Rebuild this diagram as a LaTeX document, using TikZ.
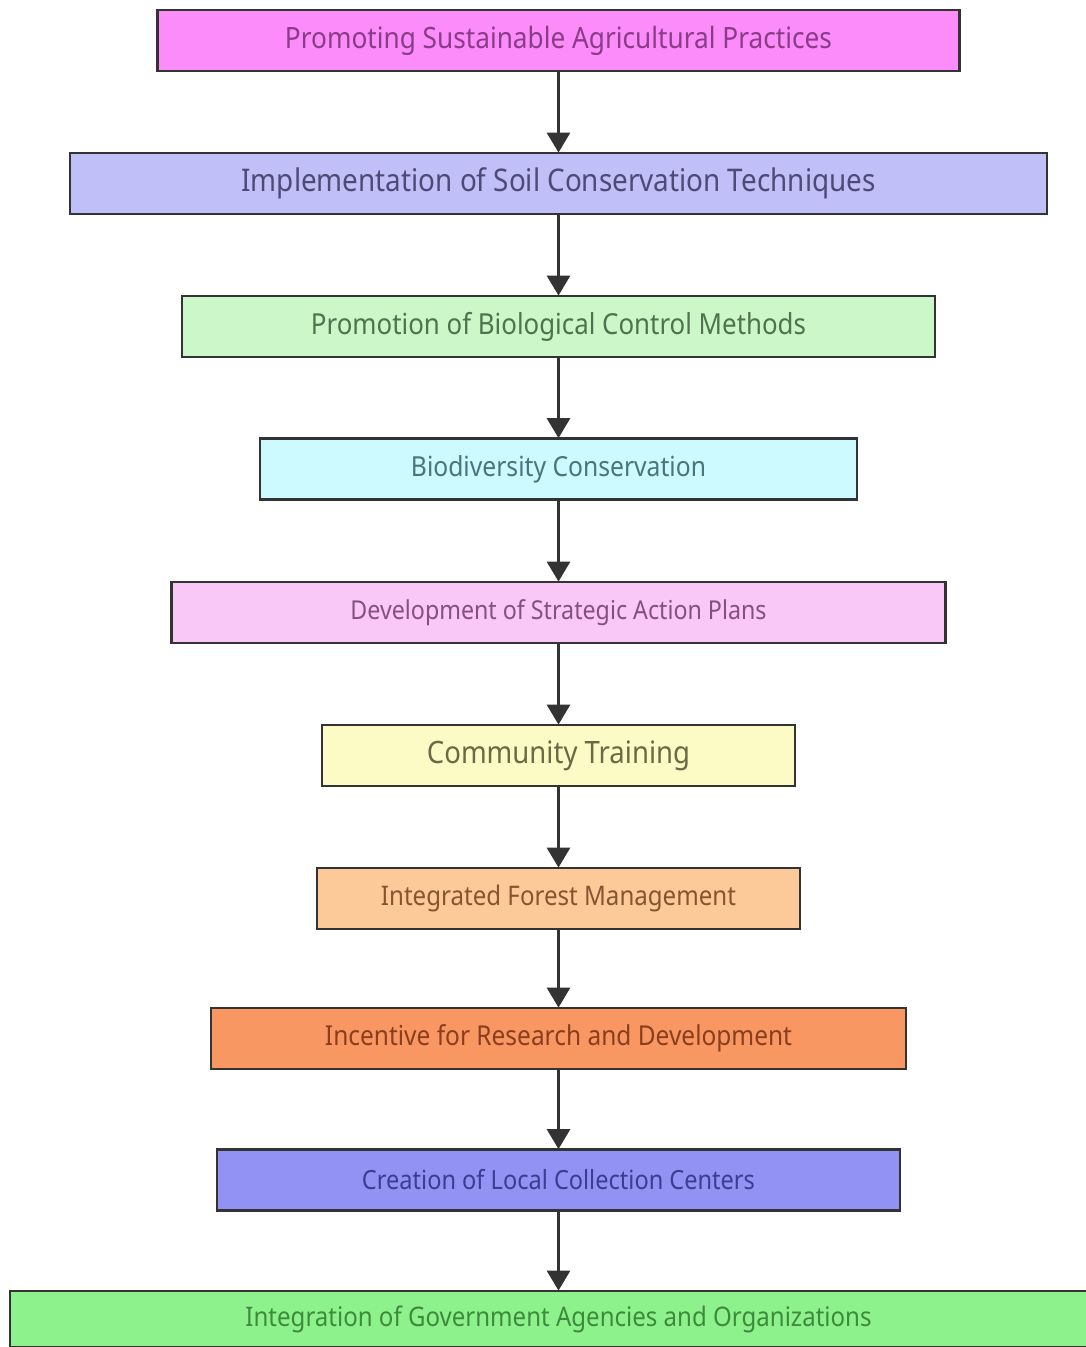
\documentclass[tikz,border=0pt]{standalone}
\usepackage{fontspec}
\setmainfont{Noto Sans}
\usetikzlibrary{arrows.meta}
\definecolor{cA}{HTML}{FC8CF9}
\definecolor{cB}{HTML}{C0BFF7}
\definecolor{cC}{HTML}{CCF8C9}
\definecolor{cD}{HTML}{CCFAFE}
\definecolor{cE}{HTML}{FAC8F6}
\definecolor{cF}{HTML}{FCFBC6}
\definecolor{cG}{HTML}{FCCA98}
\definecolor{cH}{HTML}{F99762}
\definecolor{cI}{HTML}{9192F3}
\definecolor{cJ}{HTML}{8EF28C}
\definecolor{tA}{HTML}{8A3C88}
\definecolor{tB}{HTML}{4C4B78}
\definecolor{tC}{HTML}{4E734E}
\definecolor{tD}{HTML}{4C7479}
\definecolor{tE}{HTML}{85507F}
\definecolor{tF}{HTML}{6A6A45}
\definecolor{tG}{HTML}{84552E}
\definecolor{tH}{HTML}{8A3E1E}
\definecolor{tI}{HTML}{3C3C90}
\definecolor{tJ}{HTML}{3E8A3C}
\definecolor{edge}{HTML}{333333}
\newcommand{\fitw}[2]{\scalebox{1}[1.12]{\resizebox{#1pt}{!}{#2}}}
\tikzset{
  flowbox/.style={draw=edge, line width=2.8pt, rectangle, inner sep=0pt, minimum height=61pt},
  flowarrow/.style={draw=edge, line width=3pt, -{Triangle[length=20pt,width=23pt]}, shorten >=-1pt}
}
\begin{document}
\begin{tikzpicture}[x=1pt,y=-1pt]
\useasboundingbox (0,0) rectangle (1086,1347);
\clip (0,0) rectangle (1086,1347);
\fill[white] (0,0) rectangle (1086,1347);
\node[flowbox, fill=cA, text=tA, minimum width=802pt] (b1) at (558.5,40.5) {\fitw{547}{Promoting Sustainable Agricultural Practices}};
\node[flowbox, fill=cB, text=tB, minimum width=977pt] (b2) at (558.5,183.5) {\fitw{634}{Implementation of Soil Conservation Techniques}};
\node[flowbox, fill=cC, text=tC, minimum width=753pt] (b3) at (558.5,326.5) {\fitw{495}{Promotion of Biological Control Methods}};
\node[flowbox, fill=cD, text=tD, minimum width=597pt] (b4) at (558.5,469) {\fitw{295}{Biodiversity Conservation}};
\node[flowbox, fill=cE, text=tE, minimum width=774pt] (b5) at (558.5,612.5) {\fitw{416}{Development of Strategic Action Plans}};
\node[flowbox, fill=cF, text=tF, minimum width=473pt] (b6) at (558.5,755.5) {\fitw{263}{Community Training}};
\node[flowbox, fill=cG, text=tG, minimum width=483pt] (b7) at (558.5,898.5) {\fitw{355}{Integrated Forest Management}};
\node[flowbox, fill=cH, text=tH, minimum width=695pt] (b8) at (558.5,1038.5) {\fitw{467}{Incentive for Research and Development}};
\node[flowbox, fill=cI, text=tI, minimum width=683pt] (b9) at (558.5,1180) {\fitw{393}{Creation of Local Collection Centers}};
\node[flowbox, fill=cJ, text=tJ, minimum width=1097pt, minimum height=56pt] (b10) at (558.5,1319) {\fitw{626}{Integration of Government Agencies and Organizations}};
\foreach \a/\b in {b1/b2,b2/b3,b3/b4,b4/b5,b5/b6,b6/b7,b7/b8,b8/b9,b9/b10}{
  \draw[flowarrow] (\a.south) -- (\b.north);
}
\end{tikzpicture}
\end{document}
